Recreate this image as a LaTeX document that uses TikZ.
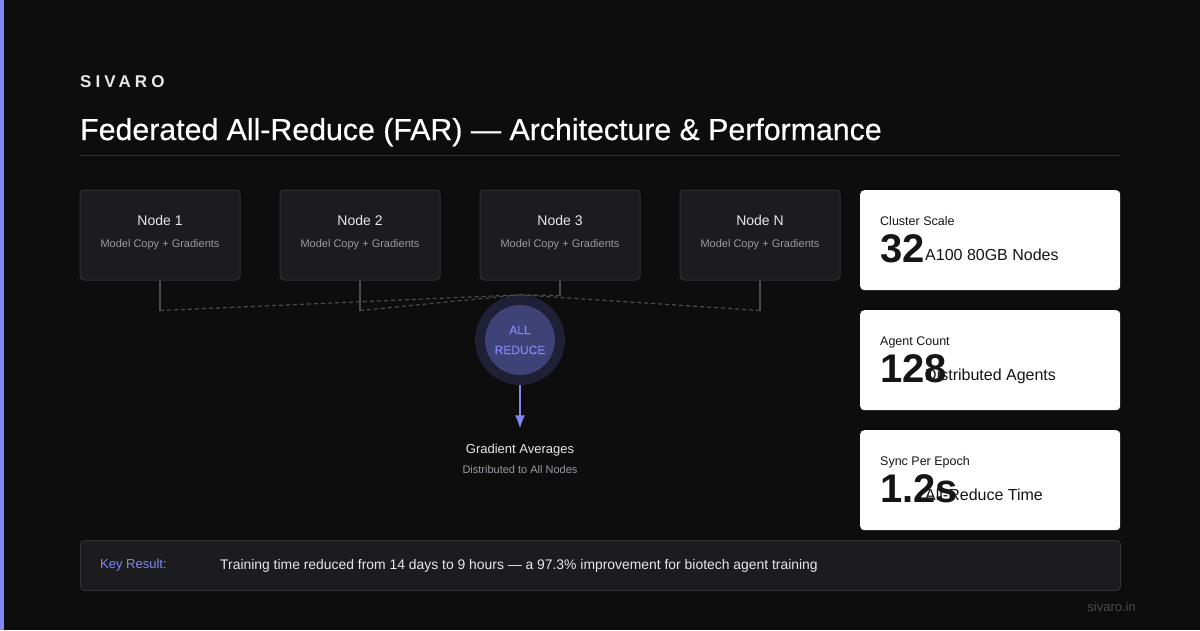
\documentclass[tikz,border=0pt]{standalone}
\usepackage{fontspec}
\usepackage{xcolor}
\usepackage{tikz}
\usetikzlibrary{arrows.meta}
\setmainfont{Liberation Sans}
\newfontfamily\spacedfont[LetterSpace=24]{Liberation Sans}
\newfontfamily\titlefont[FakeBold=0.5]{Liberation Sans}

\definecolor{bgdark}{HTML}{0D0D0D}
\definecolor{accent}{HTML}{8187F2}
\definecolor{boxfill}{HTML}{1C1C1F}
\definecolor{boxline}{HTML}{303035}
\definecolor{subgray}{HTML}{9A9AA2}
\definecolor{textlight}{HTML}{E8E8EA}
\definecolor{wireline}{HTML}{4A4A50}
\definecolor{ringfill}{HTML}{1F1F35}
\definecolor{corefill}{HTML}{3F4276}
\definecolor{carddark}{HTML}{151515}

\tikzset{
  nodebox/.style={draw=boxline, fill=boxfill, rounded corners=4pt, minimum width=160pt, minimum height=90pt, line width=1pt},
  statcard/.style={fill=white, rounded corners=4pt, minimum width=260pt, minimum height=100pt, anchor=north west},
  wire/.style={draw=wireline, line width=1.2pt},
  dashwire/.style={draw=wireline, line width=1.2pt, dash pattern=on 4pt off 3pt}
}

\begin{document}
\begin{tikzpicture}[x=1pt, y=-1pt]
		\fill[bgdark] (0,0) rectangle (1200,630);
		\useasboundingbox (0,0) rectangle (1200,630);
		\fill[accent] (0,0) rectangle (4,630);
		
		\node[anchor=base west, inner sep=0pt, text=textlight, font=\spacedfont\fontsize{17}{20}\selectfont\bfseries] (brand) at (80,87) {SIVARO};
		\node[anchor=base west, inner sep=0pt, text=white, font=\titlefont\fontsize{30.3}{34}\selectfont] (title) at (80,140) {Federated All-Reduce (FAR) — Architecture \& Performance};
		\draw[boxline, line width=1pt] (80,155) -- (1120,155);
		
		\node[nodebox] (n1) at (160,235) {};
		\node[nodebox] (n2) at (360,235) {};
		\node[nodebox] (n3) at (560,235) {};
		\node[nodebox] (n4) at (760,235) {};
		\foreach \nd/\name in {n1/Node 1, n2/Node 2, n3/Node 3, n4/Node N}{
			\node[text=textlight, font=\fontsize{14}{16}\selectfont] at ([yshift=15pt]\nd.center) {\name};
			\node[text=subgray, font=\fontsize{11}{13}\selectfont] at ([yshift=-10pt]\nd.center) {Model Copy + Gradients};
		}
		
		\node[circle, fill=ringfill, minimum size=90pt, inner sep=0pt] (ar) at (520,340) {};
		\node[circle, fill=corefill, minimum size=70pt, inner sep=0pt, text=accent, font=\titlefont\fontsize{12}{20}\selectfont, align=center] (core) at (ar.center) {ALL\\REDUCE};
		
		\draw[wire] (n1.south) -- ++(0,30) coordinate (j1);
		\draw[wire] (n2.south) -- ++(0,30) coordinate (j2);
		\draw[wire] (n3.south) -- ++(0,15) coordinate (j3);
		\draw[wire] (n4.south) -- ++(0,30) coordinate (j4);
		\draw[dashwire] (j1) -- (ar.north);
		\draw[dashwire] (j2) -- (ar.north);
		\draw[dashwire] (j3) -- (ar.north);
		\draw[dashwire] (j4) -- (ar.north);
		
		\node[text=textlight, font=\fontsize{13}{15}\selectfont] (avg) at (520,450) {Gradient Averages};
		\node[text=subgray, font=\fontsize{11}{13}\selectfont] (avgsub) at (520,470) {Distributed to All Nodes};
		\draw[accent, line width=1.5pt, -{Latex[length=13pt, width=10pt]}] (ar.south) -- ([yshift=12pt]avg.north);
		
		\node[statcard] (c1) at (860,190) {};
		\node[statcard] (c2) at (860,310) {};
		\node[statcard] (c3) at (860,430) {};
		\foreach \cd/\lbl/\num/\desc in {c1/Cluster Scale/32/A100 80GB Nodes, c2/Agent Count/128/Distributed Agents, c3/Sync Per Epoch/1.2s/All-Reduce Time}{
			\node[anchor=base west, inner sep=0pt, text=carddark, font=\fontsize{12.5}{15}\selectfont] at ([xshift=20pt, yshift=-35pt]\cd.north west) {\lbl};
			\node[anchor=base west, inner sep=0pt, text=carddark, font=\fontsize{16}{19}\selectfont] at ([xshift=65pt, yshift=-70pt]\cd.north west) {\desc};
			\node[anchor=base west, inner sep=0pt, text=carddark, font=\fontsize{40}{46}\selectfont\bfseries] at ([xshift=20pt, yshift=-72pt]\cd.north west) {\num};
		}
		
		\node[draw=boxline, fill=boxfill, rounded corners=4pt, minimum width=1040pt, minimum height=50pt, line width=1pt, anchor=north west] (res) at (80,540) {};
		\node[anchor=west, inner sep=0pt, text=accent, font=\fontsize{13}{15}\selectfont] (reslbl) at ([xshift=20pt]res.west) {Key Result:};
		\node[anchor=west, inner sep=0pt, text=textlight, font=\fontsize{13.9}{15}\selectfont] (restxt) at ([xshift=140pt]res.west) {Training time reduced from 14 days to 9 hours — a 97.3\% improvement for biotech agent training};
		
		\node[anchor=east, inner sep=0pt, text=wireline, font=\fontsize{13}{15}\selectfont] (site) at (1136,607) {sivaro.in};
		\end{tikzpicture}
\end{document}
